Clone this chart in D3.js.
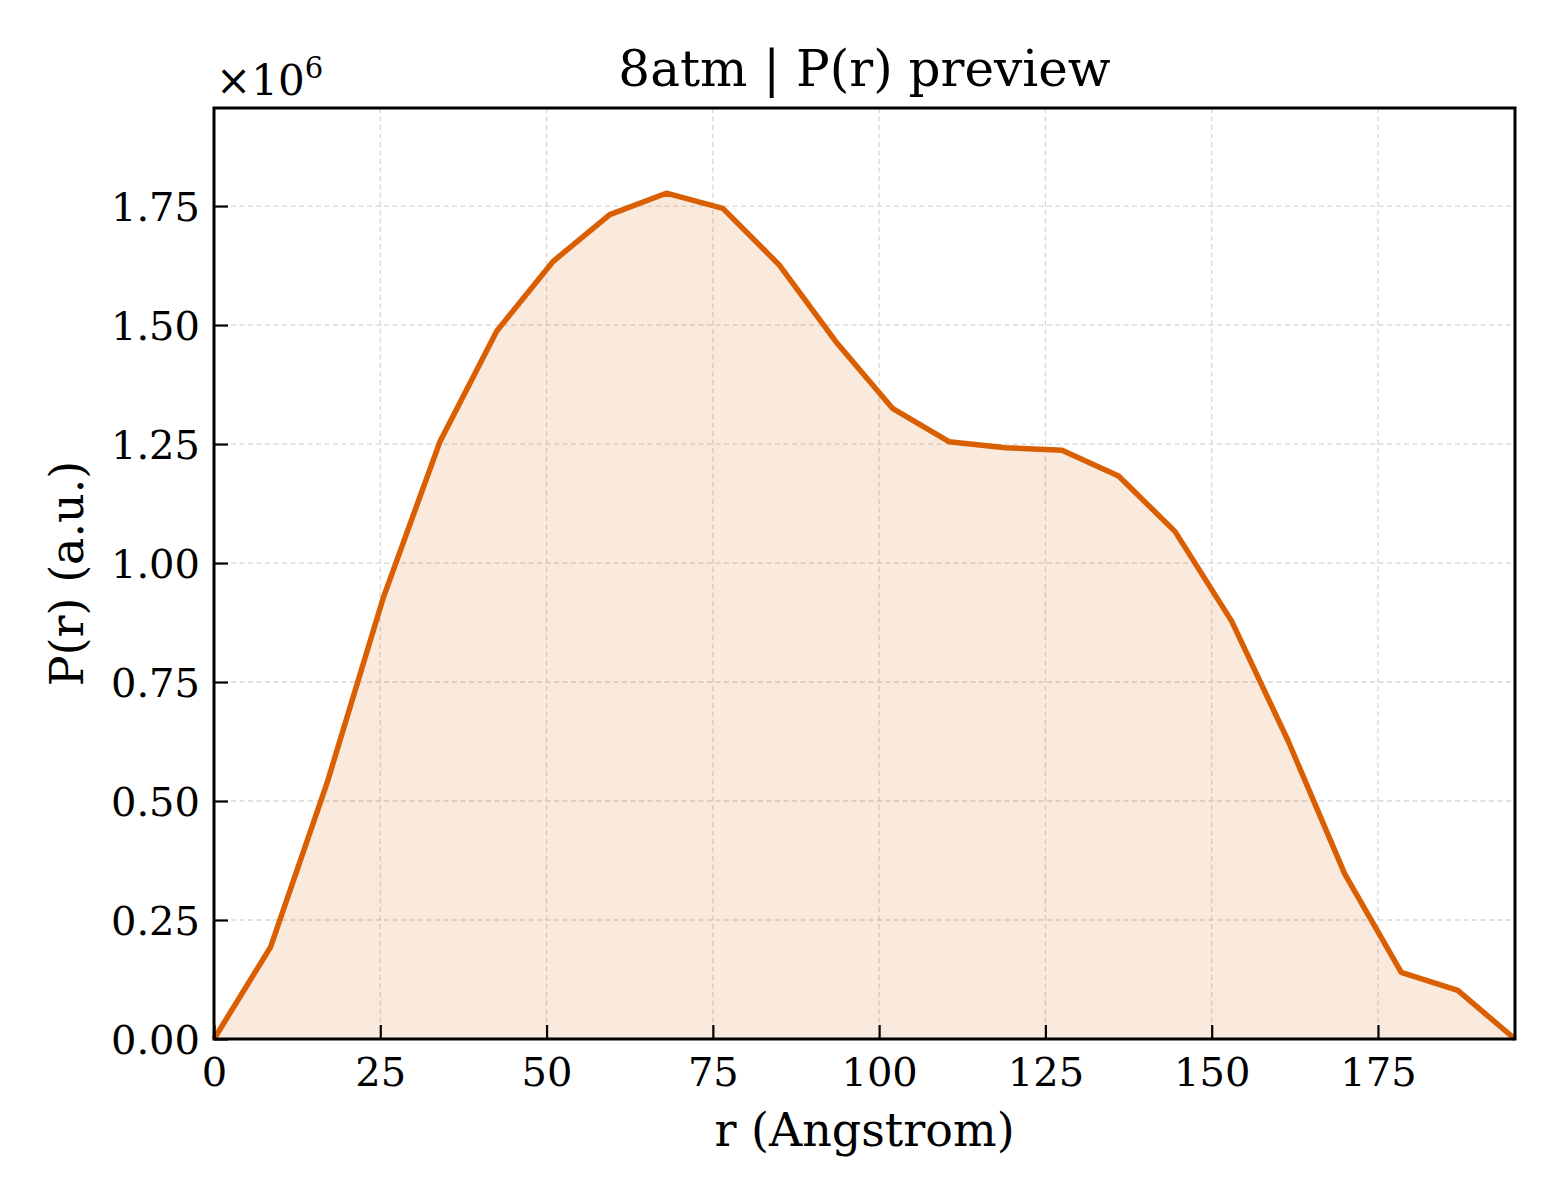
<!DOCTYPE html>
<html>
<head>
<meta charset="utf-8">
<script src="https://cdn.jsdelivr.net/npm/d3@7"></script>
<style>
  body { margin: 0; background: #fff; }
  text { font-family: "DejaVu Serif", serif; fill: #000; }
</style>
</head>
<body>
<svg id="chart" width="1560" height="1200"></svg>
<script>
// r in Angstrom, P(r) in units of 1e6
const rValues = [0, 8.5, 17.0, 25.5, 34.0, 42.5, 51.0, 59.5, 68.0, 76.5, 85.0, 93.5,
                 102.0, 110.5, 119.0, 127.5, 136.0, 144.5, 153.0, 161.5, 170.0, 178.5, 187.0, 195.6];
const pValues = [0, 0.193, 0.538, 0.929, 1.256, 1.487, 1.634, 1.732, 1.777, 1.745, 1.626, 1.465,
                 1.325, 1.255, 1.242, 1.237, 1.183, 1.066, 0.878, 0.626, 0.347, 0.140, 0.102, 0];
const xTicks = [0, 25, 50, 75, 100, 125, 150, 175];
const yTicks = [0, 0.25, 0.5, 0.75, 1.0, 1.25, 1.5, 1.75];

const plotLeft = 214, plotRight = 1515, plotTop = 108, plotBottom = 1039;
const color = '#d95f02';

const svg = d3.select('#chart');

const x = d3.scaleLinear().domain([0, 195.6]).range([plotLeft, plotRight]);
const y = d3.scaleLinear().domain([0, 1.956]).range([plotBottom, plotTop]);

// grid
svg.append('g')
  .selectAll('line')
  .data(xTicks)
  .join('line')
  .attr('x1', d => x(d)).attr('x2', d => x(d))
  .attr('y1', plotTop).attr('y2', plotBottom)
  .attr('stroke', '#d6d6d6').attr('stroke-width', 1.3).attr('stroke-dasharray', '5,3.5');
svg.append('g')
  .selectAll('line')
  .data(yTicks)
  .join('line')
  .attr('x1', plotLeft).attr('x2', plotRight)
  .attr('y1', d => y(d)).attr('y2', d => y(d))
  .attr('stroke', '#d6d6d6').attr('stroke-width', 1.3).attr('stroke-dasharray', '5,3.5');

const data = rValues.map((r, i) => ({ r: r, p: pValues[i] }));

const area = d3.area()
  .x(d => x(d.r))
  .y0(y(0))
  .y1(d => y(d.p));
const line = d3.line()
  .x(d => x(d.r))
  .y(d => y(d.p));

svg.append('path')
  .datum(data)
  .attr('fill', color)
  .attr('fill-opacity', 0.13)
  .attr('d', area);

svg.append('path')
  .datum(data)
  .attr('fill', 'none')
  .attr('stroke', color)
  .attr('stroke-width', 5.5)
  .attr('stroke-linejoin', 'round')
  .attr('d', line);

// axes with inward ticks
const xAxis = svg.append('g')
  .attr('transform', `translate(0,${plotBottom})`)
  .call(d3.axisBottom(x).tickValues(xTicks).tickSize(-14).tickPadding(19).tickFormat(d3.format('d')));
const yAxis = svg.append('g')
  .attr('transform', `translate(${plotLeft},0)`)
  .call(d3.axisLeft(y).tickValues(yTicks).tickSize(-14).tickPadding(14).tickFormat(d3.format('.2f')));

[xAxis, yAxis].forEach(g => {
  g.select('.domain').remove();
  g.selectAll('.tick line').attr('stroke', '#000').attr('stroke-width', 2.2);
  g.selectAll('.tick text').attr('font-size', 40).attr('font-family', '"DejaVu Serif", serif');
});
xAxis.selectAll('.tick text').attr('dy', '0.71em');
yAxis.selectAll('.tick text').attr('dy', '0.35em');

// frame
svg.append('rect')
  .attr('x', plotLeft).attr('y', plotTop)
  .attr('width', plotRight - plotLeft).attr('height', plotBottom - plotTop)
  .attr('fill', 'none').attr('stroke', '#000').attr('stroke-width', 3);

// offset text
const off = svg.append('text')
  .attr('x', 216).attr('y', 95)
  .attr('font-size', 42);
off.append('tspan').text('×10');
off.append('tspan').attr('font-size', 29).attr('dy', -17).text('6');

// title and labels
svg.append('text')
  .attr('x', (plotLeft + plotRight) / 2).attr('y', 86)
  .attr('text-anchor', 'middle').attr('font-size', 50)
  .text('8atm | P(r) preview');

svg.append('text')
  .attr('x', (plotLeft + plotRight) / 2).attr('y', 1146)
  .attr('text-anchor', 'middle').attr('font-size', 46)
  .text('r (Angstrom)');

svg.append('text')
  .attr('transform', `translate(83,${(plotTop + plotBottom) / 2}) rotate(-90)`)
  .attr('text-anchor', 'middle').attr('font-size', 46)
  .text('P(r) (a.u.)');
</script>
</body>
</html>
